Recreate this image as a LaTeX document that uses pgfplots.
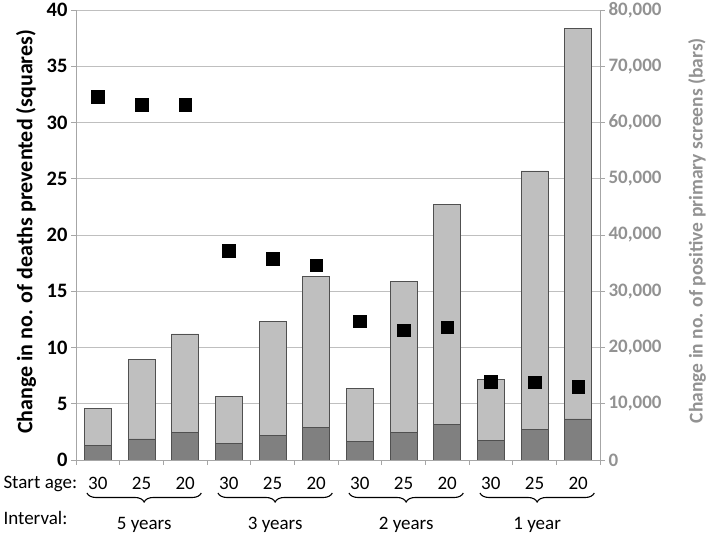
\documentclass[border=0pt]{standalone}
\usepackage{pgfplots}
\pgfplotsset{compat=1.18}
\usepackage{pgfplotstable}
\usepackage{fontspec}
\setmainfont{Carlito}
\usetikzlibrary{decorations.pathreplacing,calc}
\definecolor{lightbar}{HTML}{BFBFBF}
\definecolor{darkbar}{HTML}{808080}
\definecolor{gridc}{HTML}{BFBFBF}
\definecolor{axisc}{HTML}{A6A6A6}
\definecolor{rtext}{HTML}{929292}
\definecolor{barline}{HTML}{505050}

\pgfplotstableread{
x dark light total
0 2650 6450 9100
1 3750 14100 17850
2 4900 17500 22400
3 2950 8350 11300
4 4350 20350 24700
5 5780 26820 32600
6 3300 9400 12700
7 4900 26900 31800
8 6360 39040 45400
9 3480 10820 14300
10 5420 45980 51400
11 7300 69400 76700
}\bardata

\pgfplotstableread{
x deaths
0 32.3
1 31.6
2 31.6
3 18.6
4 17.9
5 17.3
6 12.35
7 11.55
8 11.8
9 6.95
10 6.9
11 6.5
}\deathdata

\newcommand{\fs}{\fontsize{19bp}{22bp}\selectfont}

\begin{document}
\begin{tikzpicture}
\path[use as bounding box] (0,0) rectangle (708bp,534bp);
\begin{axis}[
  name=bars,
  at={(76bp,74bp)}, anchor=south west,
  scale only axis, width=524bp, height=450bp,
  xmin=-0.5, xmax=11.5, ymin=0, ymax=80000,
  axis x line*=bottom, axis y line*=right,
  axis line style={axisc, line width=0.8bp},
  tick style={axisc, line width=0.8bp},
  tick align=outside, major tick length=5bp,
  ybar stacked, bar width=27bp,
  xtick={-0.5,0.5,...,11.5}, xticklabels={},
  extra x ticks={0,1,2,3,4,5,6,7,8,9,10,11},
  extra x tick labels={30,25,20,30,25,20,30,25,20,30,25,20},
  extra x tick style={major tick length=0pt, xticklabel style={anchor=base, yshift=-29bp}},
  ytick={0,10000,...,80000},
  ymajorgrids, grid style={gridc, line width=0.8bp},
  scaled y ticks=false,
  /pgf/number format/.cd, 1000 sep={,}, assume math mode=true, /pgfplots/.cd,
  yticklabel style={font=\fs\bfseries, text=rtext},
  xticklabel style={font=\fs},
  ylabel={Change in no. of positive primary screens (bars)},
  ylabel style={font=\fontsize{19.5bp}{22bp}\selectfont\bfseries, text=rtext, at={(axis description cs:1.185,0.51)}, anchor=center, rotate=0},
]
\addplot[fill=darkbar, draw=barline, line width=0.7bp] table[x=x, y=dark] {\bardata};
\addplot[fill=lightbar, draw=barline, line width=0.7bp] table[x=x, y=light] {\bardata};
\end{axis}
\begin{axis}[
  at={(76bp,74bp)}, anchor=south west,
  scale only axis, width=524bp, height=450bp,
  xmin=-0.5, xmax=11.5, ymin=0, ymax=40,
  axis y line*=left, hide x axis,
  axis line style={axisc, line width=0.8bp},
  tick style={axisc, line width=0.8bp},
  tick align=outside, major tick length=5bp,
  ytick={0,5,...,40},
  /pgf/number format/assume math mode=true,
  yticklabel style={font=\fontsize{20.5bp}{22bp}\selectfont\bfseries},
  ylabel={Change in no. of deaths prevented (squares)},
  ylabel style={font=\fontsize{22bp}{24bp}\selectfont\bfseries, at={(axis description cs:-0.0954,0.507)}, anchor=center},
]
\addplot[only marks, mark=square*, mark size=6.3bp, mark options={fill=black, draw=black}] table[x=x, y=deaths] {\deathdata};
\end{axis}
% group braces and interval labels (positions as fractions of the category axis)
\foreach \g/\lab in {0/5 years, 3/3 years, 6/2 years, 9/1 year} {
  \pgfmathsetmacro{\fl}{(\g+0.25)/12}
  \pgfmathsetmacro{\fr}{(\g+2.87)/12}
  \pgfmathsetmacro{\fc}{(\g+1.56)/12}
  \draw[decorate, decoration={brace, amplitude=9bp, mirror}, line width=1.1bp]
    ($(bars.south west)!\fl!(bars.south east)+(0,-33bp)$) -- ($(bars.south west)!\fr!(bars.south east)+(0,-33bp)$);
  \node[anchor=base, font=\fs] at ($(bars.south west)!\fc!(bars.south east)+(0,-69bp)$) {\lab};
}
\node[anchor=base west, font=\fs] at (0bp,45bp) {Start age:};
\node[anchor=base west, font=\fs] at (0bp,10bp) {Interval:};
\end{tikzpicture}
\end{document}
